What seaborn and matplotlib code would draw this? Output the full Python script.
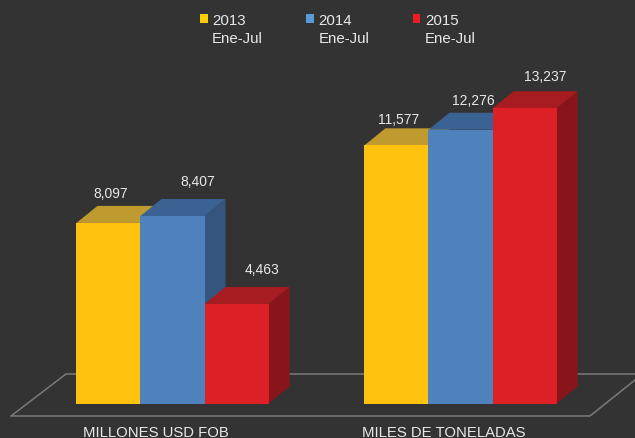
import matplotlib
matplotlib.use("Agg")
import matplotlib.pyplot as plt
import pandas as pd
import seaborn as sns
from matplotlib.legend_handler import HandlerPatch
from matplotlib.lines import Line2D
from matplotlib.patches import Patch, Polygon, Rectangle

categories = ["MILLONES USD FOB", "MILES DE TONELADAS"]
series = ["2013\nEne-Jul", "2014\nEne-Jul", "2015\nEne-Jul"]
values_2013 = [8097, 11577]
values_2014 = [8407, 12276]
values_2015 = [4463, 13237]

front_colors = ["#FFC20E", "#4F81BD", "#DC2026"]
top_colors = ["#BF9A2E", "#3A6394", "#A61C20"]
side_colors = ["#9A7A18", "#35557F", "#89151A"]
legend_colors = ["#FFCC00", "#5B9BD5", "#EE1C25"]
BG = "#333333"
TEXT = "#E8E8E8"

W, H = 635, 439
sns.set_theme(style="dark", rc={"axes.facecolor": BG, "figure.facecolor": BG})
plt.rcParams["font.family"] = ["Liberation Sans", "DejaVu Sans"]

df = pd.DataFrame({
    "categoria": categories * 3,
    "periodo": [s for s in series for _ in categories],
    "valor": values_2013 + values_2014 + values_2015,
})

fig = plt.figure(figsize=(W / 100, H / 100), dpi=100)
ax = fig.add_axes([0, 34.5 / H, 1, 404.5 / H])

sns.barplot(
    data=df, x="categoria", y="valor", hue="periodo",
    order=categories, hue_order=series, palette=front_colors,
    saturation=1, width=0.667, dodge=True, gap=0, legend=False, ax=ax, zorder=5,
    linewidth=0, edgecolor="none",
)

# pixel scale
px_x = 1 / 288.0
px_y = 44.84
ax.set_xlim(-172.5 * px_x, (W - 172.5) * px_x)
ax.set_ylim(0, 404.5 * px_y)

depth_x = 21 * px_x
depth_y = 17 * px_y

for i, container in enumerate(ax.containers):
    for bar in container:
        x0 = bar.get_x()
        x1 = x0 + bar.get_width()
        h = bar.get_height()
        order = 2 + i * 0.1
        ax.add_patch(Polygon(
            [(x1, 0), (x1 + depth_x, depth_y), (x1 + depth_x, h + depth_y), (x1, h)],
            closed=True, facecolor=side_colors[i], edgecolor="none", zorder=order, clip_on=False))
        ax.add_patch(Polygon(
            [(x0, h), (x0 + depth_x, h + depth_y), (x1 + depth_x, h + depth_y), (x1, h)],
            closed=True, facecolor=top_colors[i], edgecolor="none", zorder=order, clip_on=False))

offsets = [[(2, 27), (2, 24)], [(25, 32), (13, 27)], [(25, 32), (21, 30)]]
for i, container in enumerate(ax.containers):
    for j, bar in enumerate(container):
        ax.annotate(
            f"{int(bar.get_height()):,}",
            xy=(bar.get_x() + bar.get_width() / 2, bar.get_height()),
            xytext=(offsets[i][j][0] * 0.72, offsets[i][j][1] * 0.72 + 2),
            textcoords="offset points", ha="center", va="center",
            color=TEXT, fontsize=10, zorder=8,
        )

# floor outline
floor = "#7A7A7A"
def to_fig(pts):
    return [p[0] / W for p in pts], [1 - p[1] / H for p in pts]
for pts in ([(11, 417), (66, 375), (635, 375)], [(11, 417), (590, 417), (635, 381)]):
    xs, ys = to_fig(pts)
    ax.add_line(Line2D(xs, ys, transform=fig.transFigure, color=floor, lw=1.1, zorder=1, clip_on=False))

ax.set_xlabel("")
ax.set_ylabel("")
ax.set_yticks([])
ax.set_xticks([-17 * px_x, 1 - 17 * px_x], categories)
ax.tick_params(axis="x", length=0, pad=15.2, labelsize=10.7, labelcolor=TEXT)
for s in ax.spines.values():
    s.set_visible(False)
ax.grid(False)
ax.patch.set_alpha(0)

# legend
def square(legend, orig_handle, xdescent, ydescent, width, height, fontsize):
    return Rectangle((-xdescent, -ydescent + 0.72 * fontsize), width, height)

handles = [Patch(facecolor=c, edgecolor="none") for c in legend_colors]
leg = fig.legend(
    handles, series, loc="upper left", bbox_to_anchor=(200 / W, 1 - 14 / H),
    ncol=3, frameon=False, fontsize=10.8, labelcolor=TEXT,
    handlelength=0.5, handleheight=0.5, handletextpad=0.3,
    columnspacing=2.9, borderpad=0, borderaxespad=0,
    handler_map={Patch: HandlerPatch(patch_func=square)},
)
for t in leg.get_texts():
    t.set_linespacing(1.35)

fig.savefig("out.png", dpi=100, facecolor=BG)
